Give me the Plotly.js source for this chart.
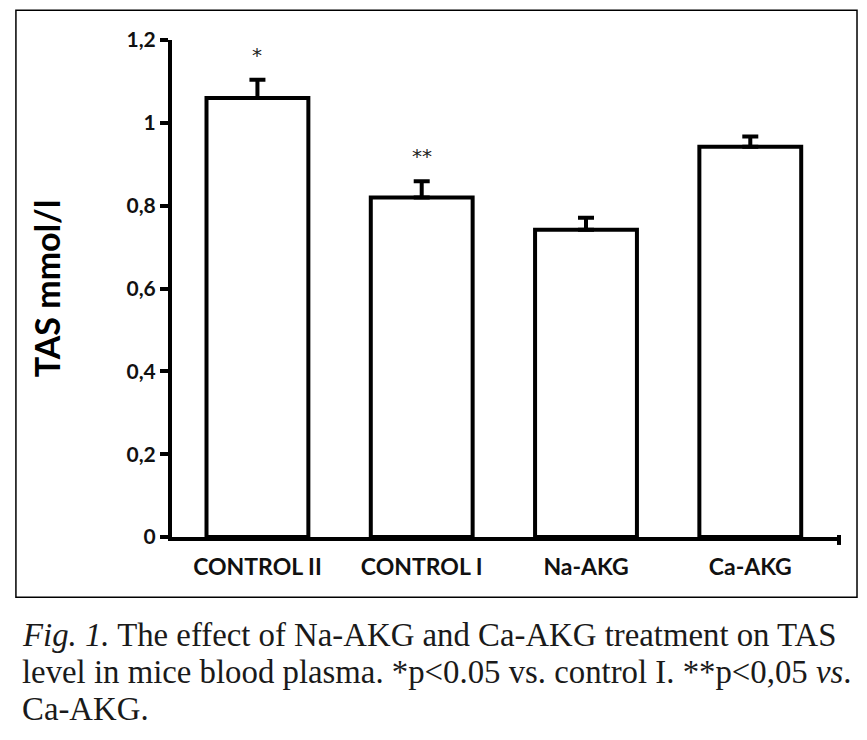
<!DOCTYPE html>
<html>
<head>
<meta charset="utf-8">
<script src="https://cdn.plot.ly/plotly-3.0.1.min.js"></script>
<style>html,body{margin:0;padding:0;background:#fff;}#chart{width:867px;height:740px;}</style>
</head>
<body>
<div id="chart"></div>
<script>
const categories = ["CONTROL II", "CONTROL I", "Na-AKG", "Ca-AKG"];
const tasValues = [1.06, 0.82, 0.742, 0.942];
const tasErrors = [0.044, 0.039, 0.029, 0.025];
const significance = ["*", "**", "", ""];
const yTickValues = [0, 0.2, 0.4, 0.6, 0.8, 1, 1.2];
const yTickLabels = ["0", "0,2", "0,4", "0,6", "0,8", "1", "1,2"];
const captionLines = [
  "<i>Fig. 1.</i> The effect of Na-AKG and Ca-AKG treatment on TAS",
  "level in mice blood plasma. *p<0.05 vs. control I. **p<0,05 <i>vs</i>.",
  "Ca-AKG."
];

const trace = {
  type: "bar",
  x: categories,
  y: tasValues,
  marker: {color: "#ffffff", line: {color: "#000000", width: 4}},
  error_y: {type: "data", symmetric: false, array: tasErrors, arrayminus: tasErrors.map(() => 0),
            color: "#000000", thickness: 4, width: 8},
  hoverinfo: "skip"
};

const annotations = [];
categories.forEach((c, i) => {
  if (significance[i]) {
    annotations.push({x: c, y: tasValues[i] + tasErrors[i] + 0.06, xref: "x", yref: "y",
      text: significance[i], showarrow: false,
      font: {family: "DejaVu Sans", size: 20, color: "#222"}});
  }
});
const lineY = [-0.197, -0.272, -0.346];
captionLines.forEach((t, i) => {
  annotations.push({x: -0.228, y: lineY[i], xref: "paper", yref: "paper", xanchor: "left", yanchor: "middle",
    text: t, showarrow: false, align: "left",
    font: {family: "Liberation Serif", size: 32.8, color: "#1a1a1a"}});
});

const layout = {
  width: 867, height: 740,
  margin: {l: 172, r: 28, t: 40, b: 203},
  paper_bgcolor: "#ffffff", plot_bgcolor: "#ffffff",
  showlegend: false,
  bargap: 0.38,
  xaxis: {
    range: [-0.52, 3.54], showline: true, linecolor: "#000", linewidth: 4,
    ticks: "", showgrid: false, zeroline: false, fixedrange: true,
    ticklabelstandoff: 6,
    tickfont: {family: "Lato", size: 23, color: "#111", weight: 700}
  },
  yaxis: {
    range: [0, 1.2], showline: true, linecolor: "#000", linewidth: 4,
    ticks: "outside", ticklen: 8, tickwidth: 4, tickcolor: "#000",
    tickvals: yTickValues, ticktext: yTickLabels, showgrid: false, zeroline: false,
    tickfont: {family: "Lato", size: 21, color: "#111", weight: 700},
    title: {text: "TAS mmol/l", font: {family: "Lato", size: 34, color: "#000", weight: 700}, standoff: 57}
  },
  annotations: annotations,
  shapes: [
    {type: "line", xref: "paper", yref: "paper", x0: 1, x1: 1, y0: 0.004, y1: -0.016,
     line: {color: "#000", width: 4}},
    {type: "rect", xref: "paper", yref: "paper", x0: -0.234, x1: 1.027, y0: -0.121, y1: 1.060,
     line: {color: "#000", width: 1.5}, fillcolor: "rgba(0,0,0,0)"}
  ]
};

Plotly.newPlot("chart", [trace], layout, {staticPlot: true});
</script>
</body>
</html>
